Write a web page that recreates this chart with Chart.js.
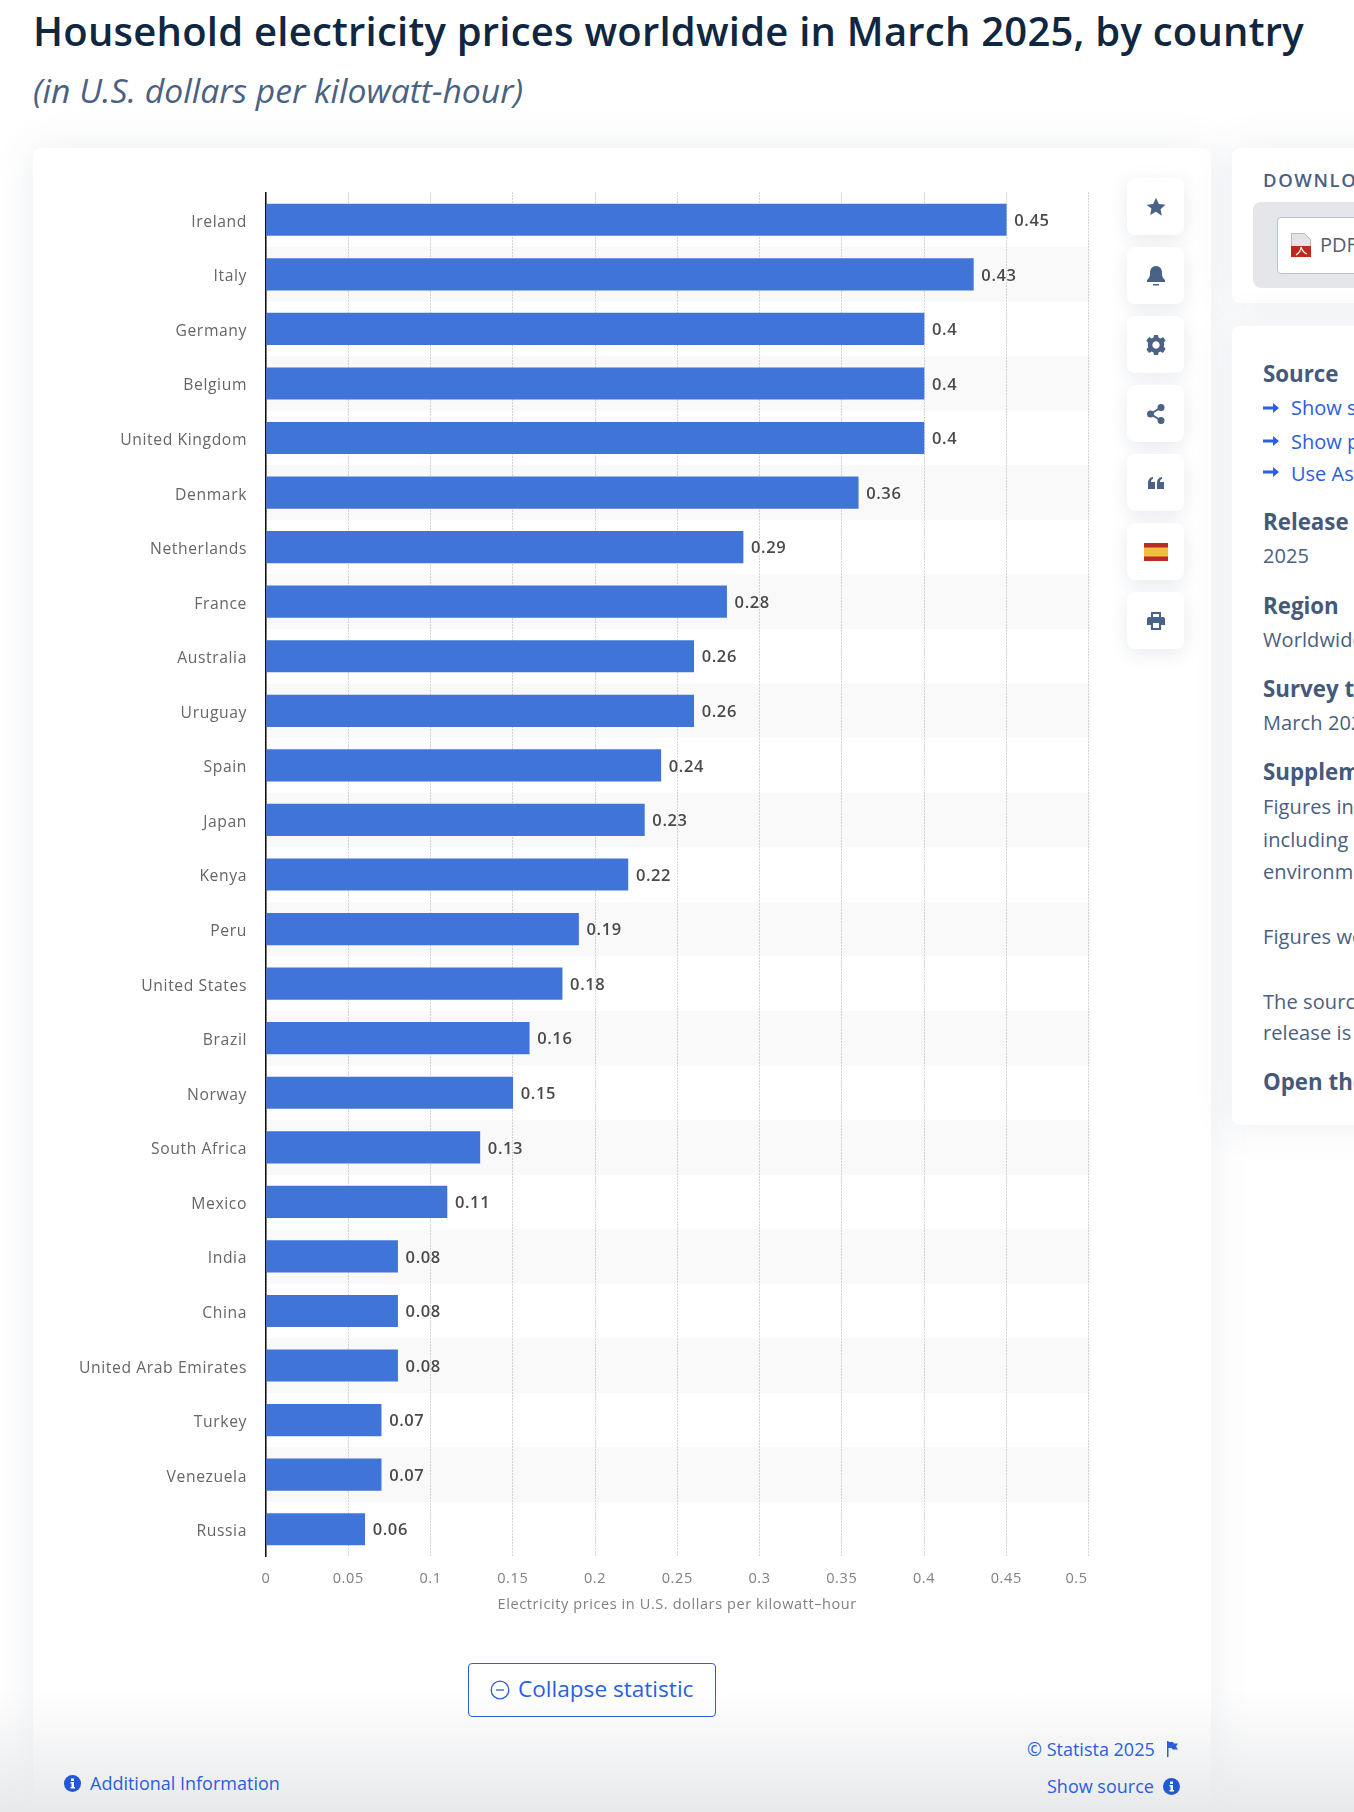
<!DOCTYPE html>
<html><head><meta charset="utf-8">
<script src="https://cdn.jsdelivr.net/npm/chart.js@4"></script>
<style>
html,body{margin:0;padding:0;width:1354px;height:1812px;overflow:hidden;background:#fff;font-family:"Open Sans",sans-serif}
.a{position:absolute;white-space:nowrap;line-height:1}
#page{position:absolute;left:0;top:0;width:1354px;height:1812px;overflow:hidden}
h1{position:absolute;left:33px;top:8px;margin:0;font-size:40px;letter-spacing:.23px;font-weight:600;color:#0f2741;line-height:46px;white-space:nowrap}
h2{position:absolute;left:33px;top:69px;margin:0;font-size:33.7px;font-weight:400;font-style:italic;color:#4a6282;line-height:42px;white-space:nowrap}
.card{position:absolute;background:#fff;border-radius:8px;box-shadow:0 0 40px rgba(70,90,130,.10)}
.btn{position:absolute;left:1127px;width:57px;height:57px;background:#fff;border-radius:8px;box-shadow:0 4px 18px rgba(70,90,130,.13);display:flex;align-items:center;justify-content:center}
.btn svg{display:block}
.b{font-weight:700;font-size:22.3px;color:#45597a;left:1263px}
.t{font-size:20px;letter-spacing:.1px;color:#4a6080;left:1263px}
.l{font-size:20px;color:#2a60dd;left:1291px}
.link{color:#2a60dd;font-size:18px}
#fade{position:absolute;left:0;right:0;top:1690px;height:122px;background:linear-gradient(to bottom,rgba(232,233,235,0),rgba(232,233,235,1));pointer-events:none}
</style></head><body>
<div id="page">
<h1>Household electricity prices worldwide in March 2025, by country</h1>
<h2>(in U.S. dollars per kilowatt-hour)</h2>

<div class="card" style="left:33px;top:148px;width:1178px;height:1700px"></div>
<div class="card" style="left:1232px;top:148px;width:180px;height:155px"></div>
<div class="card" style="left:1232px;top:326px;width:180px;height:799px"></div>

<canvas id="c" width="1178" height="1480" style="position:absolute;left:33px;top:148px;width:1178px;height:1480px"></canvas>

<div class="btn" style="top:178px"><svg width="20" height="20" viewBox="0 0 24 24"><path fill="#4a6285" d="M12 1l3.4 7.3 7.9 1-5.8 5.4 1.5 7.9L12 17.8l-7 3.8 1.5-7.9L.7 9.3l7.9-1z"/></svg></div>
<div class="btn" style="top:247px"><svg width="18" height="20" viewBox="0 0 18 20"><path fill="#4a6285" d="M9 0C5 0 3 3 3 7c0 4-1 5-3 7v2h18v-2c-2-2-3-3-3-7 0-4-2-7-6-7zM6 18h6v1.4H6z"/></svg></div>
<div class="btn" style="top:316px"><svg width="20" height="20" viewBox="0 0 20 20"><path fill="#4a6285" fill-rule="evenodd" d="M8 0h4l.6 2.8 1.9.8L17 2l2.6 3.4-1.8 2.1.4 2-.4 2.2 1.8 2.1L17 18l-2.5-1.6-1.9.8L12 20H8l-.6-2.8-1.9-.8L3 18 .4 14.3l1.8-2.1-.4-2.2.4-2L.4 5.4 3 2l2.5 1.6 1.9-.8zM10 6.300a3.700 3.700 0 1 0 .01 0z"/></svg></div>
<div class="btn" style="top:385px"><svg width="18" height="20" viewBox="0 0 18 20"><g fill="#4a6285"><circle cx="14" cy="3.500" r="3.500"/><circle cx="3.500" cy="10" r="3.500"/><circle cx="14" cy="16.500" r="3.500"/></g><path stroke="#4a6285" stroke-width="2" d="M14 3.500L3.500 10 14 16.500" fill="none"/></svg></div>
<div class="btn" style="top:454px"><svg width="16" height="12" viewBox="0 0 16 12"><path fill="#4a6285" d="M0 12V6c0-3 2-6 5-6.000v2C3.500 2 3 3.500 3 5h4v7zM9 12V6c0-3 2-6 5-6v2c-1.500 0-2 1.500-2 3h4v7z"/></svg></div>
<div class="btn" style="top:523px"><svg width="24" height="18" viewBox="0 0 24 18"><rect width="24" height="18" fill="#bb2a24"/><rect y="4.500" width="24" height="9" fill="#f1bf3f"/></svg></div>
<div class="btn" style="top:592px"><svg width="18" height="18" viewBox="0 0 18 18"><path fill="#4a6285" fill-rule="evenodd" d="M4 0h10v5h2a2 2 0 0 1 2 2v6h-4v5H4v-5H0V7a2 2 0 0 1 2-2h2zM6 2v3h6V2zM6 11v5h6v-5z"/></svg></div>

<div class="a" style="left:1263px;top:171px;font-size:18.5px;font-weight:600;letter-spacing:1.6px;color:#4a6080">DOWNLOAD</div>
<div style="position:absolute;left:1253px;top:202px;width:130px;height:86px;background:#e4e6ea;border-radius:8px"></div>
<div style="position:absolute;left:1277px;top:217px;width:110px;height:55px;background:#fff;border:1px solid #b6c3d4;border-radius:4px"></div>
<svg style="position:absolute;left:1291px;top:233px" width="20" height="24" viewBox="0 0 20 24"><path fill="#e4e4e4" stroke="#bbb" d="M.5.5h13l6 6v17H.5z"/><rect y="13" width="20" height="11" fill="#c0281f"/><path stroke="#fff" stroke-width="1.200" fill="none" d="M5 22c3-2 5-5 5-8 1 3 3 6 6 7"/></svg>
<div class="a" style="left:1320px;top:235px;font-size:20px;color:#555e6c">PDF</div>

<div class="a b" style="top:363px">Source</div>
<svg style="position:absolute;left:1263px;top:402px" width="16" height="12" viewBox="0 0 16 12"><path fill="#2a60dd" d="M0 4.500h10V1L16 6l-6 5V7.500H0z"/></svg>
<div class="a l" style="top:398px">Show source</div>
<svg style="position:absolute;left:1263px;top:435px" width="16" height="12" viewBox="0 0 16 12"><path fill="#2a60dd" d="M0 4.500h10V1L16 6l-6 5V7.500H0z"/></svg>
<div class="a l" style="top:432px">Show publisher information</div>
<svg style="position:absolute;left:1263px;top:466px" width="16" height="12" viewBox="0 0 16 12"><path fill="#2a60dd" d="M0 4.500h10V1L16 6l-6 5V7.500H0z"/></svg>
<div class="a l" style="top:464px">Use Ask Statista Research Service</div>
<div class="a b" style="top:511px">Release date</div>
<div class="a t" style="top:546px">2025</div>
<div class="a b" style="top:595px">Region</div>
<div class="a t" style="top:630px">Worldwide</div>
<div class="a b" style="top:678px">Survey time period</div>
<div class="a t" style="top:713px">March 2025</div>
<div class="a b" style="top:761px">Supplementary notes</div>
<div class="a t" style="top:797px">Figures include all</div>
<div class="a t" style="top:830px">including energy and</div>
<div class="a t" style="top:862px">environmental taxes</div>
<div class="a t" style="top:927px">Figures were</div>
<div class="a t" style="top:992px">The source</div>
<div class="a t" style="top:1023px">release is</div>
<div class="a b" style="top:1071px">Open the</div>

<div id="fade"></div>

<div style="position:absolute;left:468px;top:1663px;width:246px;height:52px;border:1px solid #2a60dd;border-radius:4px"></div>
<svg style="position:absolute;left:490px;top:1680px" width="20" height="20" viewBox="0 0 20 20"><circle cx="10" cy="10" r="8.800" fill="none" stroke="#2a60dd" stroke-width="1.300"/><path stroke="#2a60dd" stroke-width="1.300" d="M6 10h8"/></svg>
<div class="a" style="left:518px;top:1678px;font-size:22.6px;color:#2a60dd">Collapse statistic</div>

<svg style="position:absolute;left:64px;top:1775px" width="17" height="17" viewBox="0 0 17 17"><circle cx="8.500" cy="8.500" r="8.500" fill="#2257d6"/><path fill="#fff" d="M7 3.500h3v2.500H7zM6.500 7h3.500v5h1v1.500H6.500V12h1V8.500h-1z"/></svg>
<div class="a link" style="left:90px;top:1774px">Additional Information</div>
<div class="a link" style="left:1027px;top:1740px">© Statista 2025</div>
<svg style="position:absolute;left:1166px;top:1741px" width="12" height="16" viewBox="0 0 12 16"><path fill="#2a60dd" d="M1 0h1.500v1H7l1 1.500h4L10 5.500l2 3H6.500l-1-1.500H2.500v9H1z"/></svg>
<div class="a link" style="left:1047px;top:1777px">Show source</div>
<svg style="position:absolute;left:1163px;top:1778px" width="17" height="17" viewBox="0 0 17 17"><circle cx="8.500" cy="8.500" r="8.500" fill="#2257d6"/><path fill="#fff" d="M7 3.500h3v2.500H7zM6.500 7h3.500v5h1v1.500H6.500V12h1V8.500h-1z"/></svg>
</div>

<script>
const countries = ["Ireland","Italy","Germany","Belgium","United Kingdom","Denmark","Netherlands","France","Australia","Uruguay","Spain","Japan","Kenya","Peru","United States","Brazil","Norway","South Africa","Mexico","India","China","United Arab Emirates","Turkey","Venezuela","Russia"];
const prices = [0.45,0.43,0.4,0.4,0.4,0.36,0.29,0.28,0.26,0.26,0.24,0.23,0.22,0.19,0.18,0.16,0.15,0.13,0.11,0.08,0.08,0.08,0.07,0.07,0.06];
const xTickLabels = ["0","0.05","0.1","0.15","0.2","0.25","0.3","0.35","0.4","0.45","0.5"];
const axisTitle = "Electricity prices in U.S. dollars per kilowatt–hour";

const FONT = '"Open Sans", sans-serif';
const cv = document.getElementById('c');

const zebra = {
  id:'zebra',
  beforeDraw(chart){
    const {ctx, scales:{x,y}} = chart;
    const band = y.getPixelForValue(1)-y.getPixelForValue(0);
    ctx.save();
    ctx.fillStyle = '#f9f9f9';
    countries.forEach((c,i)=>{
      if(i%2===1){ ctx.fillRect(x.left, y.getPixelForValue(i)-band/2, x.right-x.left+2, band); }
    });
    ctx.restore();
    if(!chart._labelsMoved){
      chart._labelsMoved = true;
      const xItems = x.getLabelItems();
      xItems[xItems.length-1].options.translation[0] -= 12;
      y.getLabelItems().forEach(it=>{ it.options.translation[1] += 2.5; });
    }
    ctx.letterSpacing = '0.6px';
  }
};
const valueLabels = {
  id:'valueLabels',
  afterDatasetsDraw(chart){
    const {ctx} = chart;
    ctx.save();
    ctx.font = '600 16.5px '+FONT;
    ctx.letterSpacing = '0.6px';
    ctx.fillStyle = '#4a4a4a';
    ctx.textAlign = 'left';
    ctx.textBaseline = 'middle';
    chart.getDatasetMeta(0).data.forEach((bar,i)=>{
      ctx.fillText(String(prices[i]), bar.x+8, bar.y+1.5);
    });
    ctx.restore();
  }
};

new Chart(cv,{
  type:'bar',
  data:{labels:countries,datasets:[{data:prices,backgroundColor:'#4074d8',borderWidth:0,barThickness:31.5}]},
  options:{
    indexAxis:'y',responsive:false,animation:false,devicePixelRatio:1,
    events:[],
    layout:{padding:{left:0,right:122.5,top:44.5,bottom:14}},
    plugins:{legend:{display:false},tooltip:{enabled:false},title:{display:false}},
    scales:{
      x:{
        type:'linear',min:0,max:0.5,position:'bottom',
        afterFit(s){s.height=57.5;},
        grid:{color:'#aaaaaa',lineWidth:1,drawTicks:false,drawOnChartArea:true},
        border:{display:false,dash:[1,2]},
        ticks:{stepSize:0.05,autoSkip:false,maxRotation:0,padding:14,color:'#808080',
          font:{family:FONT,size:14.5},callback:(v,i)=>xTickLabels[i]},
        title:{display:true,text:axisTitle,color:'#808080',font:{family:FONT,size:14.5},padding:{top:1,bottom:0}}
      },
      y:{
        afterFit(s){s.width=233;},
        grid:{display:false},
        border:{display:true,color:'#111',width:1.5},
        ticks:{autoSkip:false,padding:11,color:'#666',font:{family:FONT,size:15.7}}
      }
    }
  },
  plugins:[zebra,valueLabels]
});
</script>
</body></html>
